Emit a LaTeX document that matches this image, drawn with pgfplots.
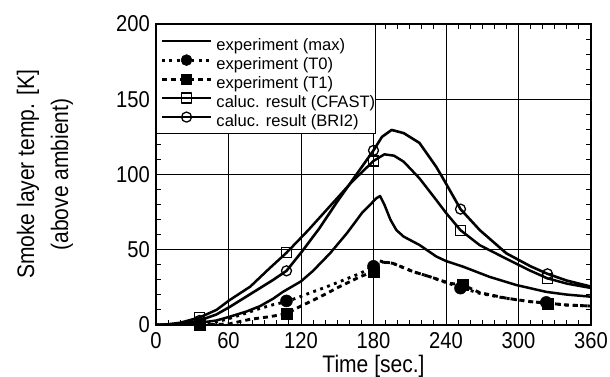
\documentclass[border=0pt]{standalone}
\usepackage{fontspec}
\setmainfont{Liberation Sans}
\newfontfamily\narrowfont{Liberation Sans}[FakeStretch=0.88]
\usepackage{pgfplots}
\pgfplotsset{compat=1.18}
\pgfplotsset{
 emax/.style={black, line width=2.5pt, line join=round},
 tzero/.style={black, line width=2.9pt, dash pattern=on 2.9pt off 4.5pt},
 tone/.style={black, line width=2.9pt, dash pattern=on 5pt off 4pt},
 cfast/.style={black, line width=2.5pt, line join=round},
 bri/.style={black, line width=2.6pt, line join=round},
 tzerom/.style={mark=*, mark size=6bp, mark options={solid, fill=black, line width=0.5pt}},
 tonem/.style={mark=square*, mark size=5.5bp, mark options={solid, fill=black, line width=0.5pt}},
 cfastm/.style={mark=square, mark size=5bp, mark options={solid, fill=white, line width=1.3pt}},
 brim/.style={mark=o, mark size=5bp, mark options={solid, fill=white, line width=1.3pt}},
}
\begin{document}
\begin{tikzpicture}
\begin{axis}[
 scale only axis, width=435bp, height=301bp,
 xmin=0, xmax=360, ymin=0, ymax=200,
 xtick={0,60,...,360}, ytick={0,50,...,200},
 minor x tick num=5, minor y tick num=4,
 tick align=inside, major tick length=5bp, minor tick length=5bp,
 xmajorgrids=true, ymajorgrids=true,
 grid style={black, line width=0.8pt},
 major grid style={black, line width=0.8pt},
 axis line style={line width=1.6pt},
 tick style={black, line width=1pt},
 /pgf/number format/assume math mode=true,
 ticklabel style={font=\narrowfont\fontsize{23}{23}\selectfont},
 xticklabel style={inner sep=0pt, yshift=-7bp},
 yticklabel style={inner sep=0pt, xshift=-6bp},
 xlabel={Time [sec.]},
 xlabel style={font=\narrowfont\fontsize{24}{24}\selectfont, at={(axis description cs:0.5,-0.1562)}, anchor=base},
 ylabel={Smoke layer temp. [K]\\(above ambient)},
 ylabel style={font=\narrowfont\fontsize{24}{34}\selectfont, align=center, at={(axis description cs:-0.2552,0.5)}, anchor=center},
 legend style={at={(0,1)}, anchor=north west, draw=black, line width=1.2pt, fill=white,
   font=\fontsize{16.6}{18}\selectfont, inner xsep=0bp, inner ysep=7bp, row sep=0pt, column sep=0pt,
   nodes={inner sep=0pt, text height=19bp, text depth=0bp},
   column 2/.style={nodes={text width=170bp}}},
 legend cell align=left,
 legend image code/.code={\path (0bp,0bp) (57bp,0bp);\draw[mark repeat=2,mark phase=2,#1] plot coordinates {(4bp,0bp)(28.5bp,0bp)(53bp,0bp)};},
]
% experiment (max)
\addplot[emax, forget plot] coordinates {
(0,0) (20,0.5) (36,1.5) (50,3) (61,5.5) (75,9) (86,12.5) (97,17.5) (105,22) (120,29) (130,36)
(144,47.6) (158,61) (171,75) (177,79.7) (182,84) (185.4,85.7) (189,80) (194,70) (199,63)
(205,58.7) (218,53.2) (232,45.5) (240,42.5) (254,38.8) (276,32) (298,26.6) (323,22) (340,20.2) (360,18.8)};
% experiment (T0)
\addplot[tzero, forget plot] coordinates {
(0,0) (20,0) (36,0.5) (50,2) (61,4.4) (75,8) (86,11) (97,13.5) (108,15.5) (120,19) (128,21.5)
(140,25) (152,28.8) (169,34.3) (180,39) (185,42.5) (196,41) (213,35.4) (227,32) (237,29)
(252,25) (268,21) (290,17.7) (310,15.5) (324,14.5) (340,13.2) (360,12.6)};
% experiment (T1)
\addplot[tone, forget plot] coordinates {
(0,0) (20,0) (36,0) (50,0.3) (61,0.8) (78,3.8) (94,5.5) (108,7.5) (119,12.2) (136,18.8)
(152,25.5) (169,32.1) (180,35.5) (185,42) (196,41) (213,35.4) (227,32) (243,27.7) (254,26.6)
(268,21.5) (290,17.8) (310,15.5) (324,14.5) (340,13.3) (360,12.6)};
% CFAST
\addplot[cfast, forget plot] coordinates {
(0,0) (10,0.5) (20,1.5) (36,5) (50,10) (61,16.6) (78,25.5) (94,37.7) (108,48) (126,63) (144,79)
(162,95) (180,109) (189,113.4) (197,112.5) (205,108.5) (218,97.5) (232,83) (240,74.5) (252,63)
(268,53) (290,44) (310,36) (324,31) (340,27.5) (360,24.6)};
% BRI2
\addplot[bri, forget plot] coordinates {
(0,0) (10,0.3) (20,1) (30,2) (36,3) (50,7) (61,12) (75,19) (86,24.5) (97,30) (108,36) (120,48)
(135,64) (150,82) (165,99) (180,116) (187,125) (195,129.6) (205,127.5) (218,121) (232,105)
(240,94) (252,77) (268,63) (290,47.6) (310,39) (324,34) (340,29.5) (360,25.5)};
% markers
\addplot[only marks, tonem, forget plot] coordinates {(36,0) (108,7.5) (180,35.5) (254,26.5) (324,14)};
\addplot[only marks, tzerom, forget plot] coordinates {(36,1) (108,16) (180,39) (252,24.5) (323,15)};
\addplot[only marks, cfastm, forget plot] coordinates {(36,5) (108,48) (180,109) (252,63) (324,31)};
\addplot[only marks, brim, forget plot] coordinates {(36,3) (108,36) (180,116) (252,77) (324,34)};
% legend
\addlegendimage{emax}
\addlegendentry{experiment (max)}
\addlegendimage{tzero, tzerom, mark size=5.5bp}
\addlegendentry{experiment (T0)}
\addlegendimage{tone, tonem, mark size=5bp}
\addlegendentry{experiment (T1)}
\addlegendimage{cfast, line width=1.8pt, cfastm}
\addlegendentry{caluc. result (CFAST)}
\addlegendimage{bri, brim}
\addlegendentry{caluc. result (BRI2)}
\end{axis}
\pgfresetboundingbox
\path (current axis.south west) ++(-156bp,-52bp) rectangle ++(610bp,377bp);
\end{tikzpicture}
\end{document}
